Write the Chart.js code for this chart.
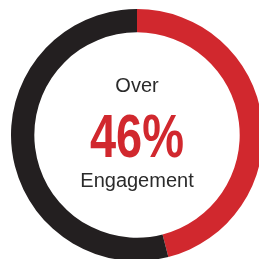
<!DOCTYPE html>
<html>
<head>
<meta charset="utf-8">
<script src="https://cdn.jsdelivr.net/npm/chart.js@4"></script>
<style>
  html, body { margin: 0; padding: 0; background: #fff; overflow: hidden; width: 259px; height: 259px; }
  #wrap { position: absolute; left: 11px; top: 9px; width: 252px; height: 252px; }
</style>
</head>
<body>
<div id="wrap"><canvas id="engagementChart" width="252" height="252"></canvas></div>
<script>
const segmentLabels = ['Engaged', 'Not engaged'];
const segmentValues = [46, 54];
const segmentColors = ['#d1282e', '#231f20'];
const topLabel = 'Over';
const bigLabel = '46%';
const bottomLabel = 'Engagement';

// draws the three lines of text in the hole
const centerText = {
  id: 'centerText',
  afterDraw(chart) {
    const ctx = chart.ctx;
    const meta = chart.getDatasetMeta(0).data[0];
    const cx = meta.x;
    const cy = meta.y;

    ctx.save();
    ctx.textAlign = 'center';
    ctx.textBaseline = 'alphabetic';

    ctx.fillStyle = '#2b2b2b';
    ctx.font = '300 20px "Liberation Sans", Arial, sans-serif';
    ctx.fillText(topLabel, cx, cy - 43);
    ctx.fillText(bottomLabel, cx, cy + 52);

    ctx.fillStyle = segmentColors[0];
    ctx.font = 'bold 61px "Liberation Sans", Arial, sans-serif';
    ctx.translate(cx, cy + 22);
    ctx.scale(0.77, 1);
    ctx.fillText(bigLabel, 0, 0);
    ctx.restore();
  }
};

const ctx = document.getElementById('engagementChart').getContext('2d');
new Chart(ctx, {
  type: 'doughnut',
  data: {
    labels: segmentLabels,
    datasets: [{
      data: segmentValues,
      backgroundColor: segmentColors,
      borderWidth: 0,
      hoverOffset: 0,
      offset: 0,
    }],
  },
  options: {
    responsive: false,
    animation: false,
    cutout: '81.5%',
    layout: { padding: 0 },
    plugins: {
      legend: { display: false },
      tooltip: { enabled: false },
    },
  },
  plugins: [centerText],
});
</script>
</body>
</html>
